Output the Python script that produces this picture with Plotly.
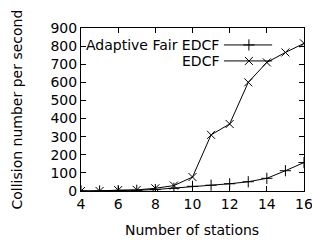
import plotly.graph_objects as go

stations = [4, 5, 6, 7, 8, 9, 10, 11, 12, 13, 14, 15, 16]
adaptive = [0, 0, 2, 4, 8, 15, 26, 32, 40, 51, 70, 112, 157]
edcf = [0, 0, 5, 6, 15, 30, 77, 310, 370, 600, 710, 765, 815]
series_names = ["Adaptive Fair EDCF", "EDCF"]
x_ticks = [4, 6, 8, 10, 12, 14, 16]
y_ticks = [0, 100, 200, 300, 400, 500, 600, 700, 800, 900]

FONT = "DejaVu Sans, sans-serif"
FS = 14
fig = go.Figure()
fig.add_trace(go.Scatter(x=stations, y=adaptive, mode="lines+markers",
                         line=dict(color="black", width=1),
                         marker=dict(symbol="cross-thin", size=8, line=dict(color="black", width=1)),
                         showlegend=False))
fig.add_trace(go.Scatter(x=stations, y=edcf, mode="lines+markers",
                         line=dict(color="black", width=1),
                         marker=dict(symbol="x-thin", size=8, line=dict(color="black", width=1)),
                         showlegend=False))

# gnuplot-style legend on an overlay axis (0..1)
leg_y = [0.896, 0.798]
syms = ["cross-thin", "x-thin"]
for i, name in enumerate(series_names):
    fig.add_trace(go.Scatter(x=[0.641, 0.857], y=[leg_y[i], leg_y[i]], mode="lines",
                             line=dict(color="black", width=1), xaxis="x2", yaxis="y2",
                             showlegend=False, hoverinfo="skip"))
    fig.add_trace(go.Scatter(x=[0.753], y=[leg_y[i]], mode="markers",
                             marker=dict(symbol=syms[i], size=8, line=dict(color="black", width=1)),
                             xaxis="x2", yaxis="y2", showlegend=False, hoverinfo="skip"))
    fig.add_annotation(x=0.628, y=leg_y[i], xref="x2", yref="y2", text=name, showarrow=False,
                       xanchor="right", yanchor="middle", font=dict(family=FONT, size=FS, color="black"))

fig.add_annotation(x=0.498, y=-0.239, xref="paper", yref="paper", text="Number of stations",
                   showarrow=False, xanchor="center", yanchor="middle",
                   font=dict(family=FONT, size=FS, color="black"))
fig.add_annotation(x=-0.287, y=0.5, xref="paper", yref="paper", text="Collision number per second",
                   showarrow=False, xanchor="center", yanchor="middle", textangle=-90,
                   font=dict(family=FONT, size=FS, color="black"))

axis_common = dict(showgrid=False, zeroline=False, showline=True, linecolor="black", linewidth=1,
                   mirror="ticks", ticks="inside", ticklen=5, tickcolor="black", automargin=False,
                   ticklabeloverflow="allow",
                   tickfont=dict(family=FONT, size=FS, color="black"))
fig.update_layout(
    width=312, height=245, margin=dict(l=81, r=8, t=28, b=54),
    plot_bgcolor="white", paper_bgcolor="white",
    xaxis=dict(range=[4, 16], tickvals=x_ticks, **axis_common),
    yaxis=dict(range=[0, 900], tickvals=y_ticks, **axis_common),
    xaxis2=dict(range=[0, 1], overlaying="x", visible=False),
    yaxis2=dict(range=[0, 1], overlaying="y", visible=False),
)
fig.write_html("out.html", config={"displayModeBar": False},
               post_script="document.body.style.margin='0';document.body.style.overflow='hidden';")
